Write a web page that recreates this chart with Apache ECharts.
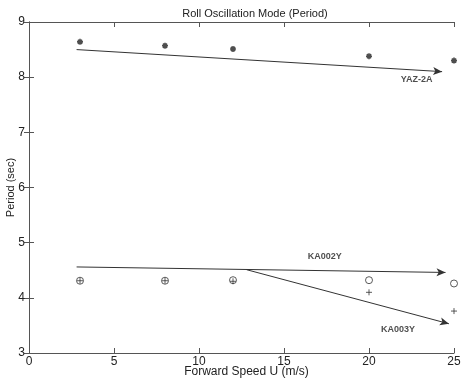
<!DOCTYPE html>
<html><head><meta charset="utf-8">
<script src="https://cdn.jsdelivr.net/npm/echarts@6/dist/echarts.min.js"></script>
<style>html,body{margin:0;padding:0;background:#fff}#c{width:465px;height:380px}</style>
</head><body><div id="c"></div>
<script>
var speeds = [3, 8, 12, 20, 25];
var yaz2a = [8.64, 8.57, 8.51, 8.38, 8.30];
var ka002y = [4.31, 4.31, 4.32, 4.32, 4.26];
var ka003y = [4.31, 4.31, 4.30, 4.10, 3.76];
var yazTrend = [[2.8, 8.50], [24.3, 8.10]];
var ka002Trend = [[2.8, 4.56], [24.5, 4.46]];
var ka003Trend = [[12.8, 4.51], [24.7, 3.53]];
var seriesLabels = [
  {name: 'YAZ-2A', x: 22.8, y: 7.95},
  {name: 'KA002Y', x: 17.4, y: 4.74},
  {name: 'KA003Y', x: 21.7, y: 3.42}
];
var xTicks = [0, 5, 10, 15, 20, 25];
var yTicks = [3, 4, 5, 6, 7, 8, 9];

function pairs(xs, ys){ return xs.map(function(x,i){ return [x, ys[i]]; }); }
function trend(p){ return [{coord: p[0], symbol: 'none'}, {coord: p[1], symbol: 'arrow', symbolSize: [6, 9]}]; }

var ink = '#222';
var chart = echarts.init(document.getElementById('c'));
var axisCommon = {
  axisLine: {show: true, lineStyle: {color: '#555', width: 1}},
  axisTick: {show: true, inside: true, length: 5, lineStyle: {color: '#555'}},
  splitLine: {show: false}
};
chart.setOption({
  animation: false,
  backgroundColor: '#fff',
  title: {text: 'Roll Oscillation Mode (Period)', left: 250, top: 3, textAlign: 'center',
    textStyle: {fontFamily: 'Liberation Sans', fontSize: 11, fontWeight: 'normal', color: ink}},
  grid: {left: 29, right: 11, top: 22, bottom: 27, containLabel: false, outerBoundsMode: 'none'},
  xAxis: [
    Object.assign({type: 'value', min: xTicks[0], max: xTicks[xTicks.length-1], interval: 5,
      name: 'Forward Speed U (m/s)', nameLocation: 'middle', nameGap: 13, nameMoveOverlap: false,
      nameTextStyle: {fontFamily: 'Liberation Sans', fontSize: 12, color: ink, padding: [0,0,0,10]},
      axisLabel: {fontFamily: 'Liberation Sans', fontSize: 12, color: ink, margin: 3}}, axisCommon),
    Object.assign({type: 'value', position: 'top', min: 0, max: 25, interval: 5,
      axisLabel: {show: false}}, axisCommon)
  ],
  yAxis: [
    Object.assign({type: 'value', min: yTicks[0], max: yTicks[yTicks.length-1], interval: 1,
      name: 'Period (sec)', nameLocation: 'middle', nameGap: 13, nameMoveOverlap: false,
      nameTextStyle: {fontFamily: 'Liberation Sans', fontSize: 11, color: ink, padding: [0,0,0,0]},
      axisLabel: {fontFamily: 'Liberation Sans', fontSize: 12, color: ink, margin: 4}}, axisCommon),
    Object.assign({type: 'value', position: 'right', min: 3, max: 9, interval: 1,
      axisLabel: {show: false}}, axisCommon)
  ],
  series: [
    {type: 'scatter', name: 'YAZ-2A', data: pairs(speeds, yaz2a),
      symbol: 'path://M5,0L5,10M0,5L10,5M1.5,1.5L8.5,8.5M8.5,1.5L1.5,8.5', symbolSize: 6,
      itemStyle: {color: '#222', borderColor: '#222', borderWidth: 1.6},
      markLine: {silent: true, symbol: ['none','arrow'], label: {show: false},
        lineStyle: {color: '#333', width: 1, type: 'solid'}, data: [trend(yazTrend)]}},
    {type: 'scatter', name: 'KA002Y', data: pairs(speeds, ka002y),
      symbol: 'circle', symbolSize: 7,
      itemStyle: {color: 'rgba(0,0,0,0)', borderColor: '#333', borderWidth: 1},
      markLine: {silent: true, symbol: ['none','arrow'], label: {show: false},
        lineStyle: {color: '#333', width: 1, type: 'solid'}, data: [trend(ka002Trend)]}},
    {type: 'scatter', name: 'KA003Y', data: pairs(speeds, ka003y),
      symbol: 'path://M5,0L5,10M0,5L10,5', symbolSize: 6,
      itemStyle: {color: 'rgba(0,0,0,0)', borderColor: '#333', borderWidth: 1},
      markLine: {silent: true, symbol: ['none','arrow'], label: {show: false},
        lineStyle: {color: '#333', width: 1, type: 'solid'}, data: [trend(ka003Trend)]}},
    {type: 'scatter', data: seriesLabels.map(function(s){ return {value: [s.x, s.y], name: s.name}; }),
      symbolSize: 0, silent: true,
      label: {show: true, position: 'inside', formatter: '{b}', fontFamily: 'Liberation Sans',
        fontSize: 9, fontWeight: 'bold', color: ink}}
  ]
});
</script></body></html>
